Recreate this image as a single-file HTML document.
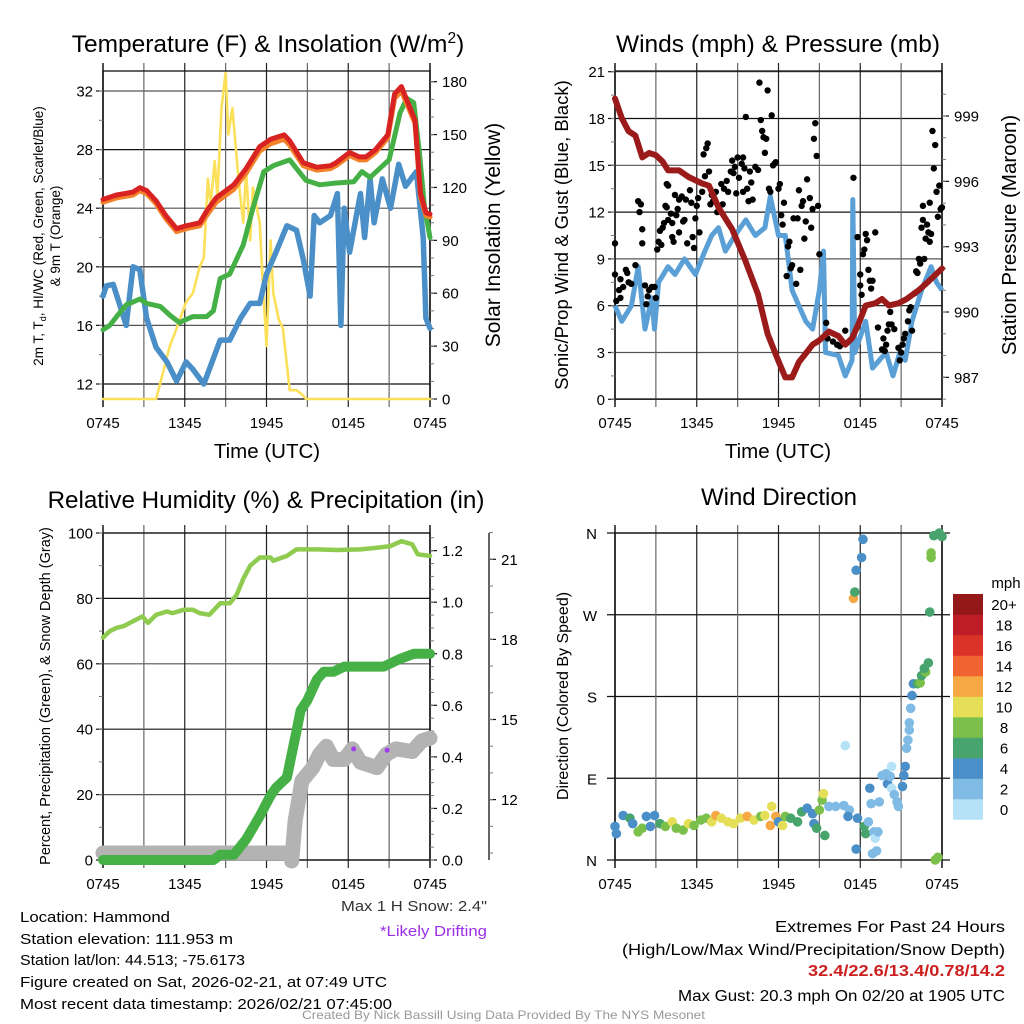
<!DOCTYPE html>
<html><head><meta charset="utf-8"><style>
html,body{margin:0;padding:0;background:#fff;}
svg{display:block;font-family:"Liberation Sans",sans-serif;}
</style></head><body>
<svg id="s" width="1024" height="1024" viewBox="0 0 1024 1024" xmlns="http://www.w3.org/2000/svg">
<g id="g1"></g>
<g id="g2"></g>
<g id="g3"></g>
<g id="g4"></g>
<g id="txt">
<text x="268" y="52" font-size="24.5" text-anchor="middle">Temperature (F) &amp; Insolation (W/m<tspan font-size="15.5" dy="-9">2</tspan><tspan dy="9">)</tspan></text>
<text x="778" y="52" font-size="24.5" text-anchor="middle">Winds (mph) &amp; Pressure (mb)</text>
<text x="266" y="508" font-size="24.2" text-anchor="middle">Relative Humidity (%) &amp; Precipitation (in)</text>
<text x="779" y="505" font-size="24" text-anchor="middle">Wind Direction</text>
<text x="267" y="458" font-size="20.5" text-anchor="middle">Time (UTC)</text>
<text x="778" y="458" font-size="20.5" text-anchor="middle">Time (UTC)</text>
<text transform="translate(43,236) rotate(-90)" font-size="13.5" text-anchor="middle">2m T, T<tspan font-size="9" dy="3">d</tspan><tspan dy="-3">, HI/WC (Red, Green, Scarlet/Blue)</tspan></text>
<text transform="translate(60,236) rotate(-90)" font-size="13.5" text-anchor="middle">&amp; 9m T (Orange)</text>
<text transform="translate(500,235) rotate(-90)" font-size="21" text-anchor="middle">Solar Insolation (Yellow)</text>
<text transform="translate(568,235) rotate(-90)" font-size="18.5" text-anchor="middle">Sonic/Prop Wind &amp; Gust (Blue, Black)</text>
<text transform="translate(1016,235) rotate(-90)" font-size="20.5" text-anchor="middle">Station Pressure (Maroon)</text>
<text transform="translate(50,696) rotate(-90)" font-size="14.5" text-anchor="middle">Percent, Precipitation (Green), &amp; Snow Depth (Gray)</text>
<text transform="translate(568,696) rotate(-90)" font-size="16" text-anchor="middle">Direction (Colored By Speed)</text>
<g font-size="15">
<text x="20" y="922" textLength="150" lengthAdjust="spacingAndGlyphs">Location: Hammond</text>
<text x="20" y="944" textLength="213" lengthAdjust="spacingAndGlyphs">Station elevation: 111.953 m</text>
<text x="20" y="965" textLength="225" lengthAdjust="spacingAndGlyphs">Station lat/lon: 44.513; -75.6173</text>
<text x="20" y="987" textLength="367" lengthAdjust="spacingAndGlyphs">Figure created on Sat, 2026-02-21, at 07:49 UTC</text>
<text x="20" y="1009" textLength="372" lengthAdjust="spacingAndGlyphs">Most recent data timestamp: 2026/02/21 07:45:00</text>
</g>
<text x="341" y="911" font-size="15" fill="#333" textLength="146" lengthAdjust="spacingAndGlyphs">Max 1 H Snow: 2.4"</text>
<text x="380" y="936" font-size="15" fill="#9b30e8" textLength="107" lengthAdjust="spacingAndGlyphs">*Likely Drifting</text>
<g font-size="15.5">
<text x="775" y="932" textLength="230" lengthAdjust="spacingAndGlyphs">Extremes For Past 24 Hours</text>
<text x="622" y="955" textLength="383" lengthAdjust="spacingAndGlyphs">(High/Low/Max Wind/Precipitation/Snow Depth)</text>
<text x="808" y="976" textLength="197" lengthAdjust="spacingAndGlyphs" fill="#cc1f1f" font-weight="bold">32.4/22.6/13.4/0.78/14.2</text>
<text x="678" y="1001" textLength="327" lengthAdjust="spacingAndGlyphs">Max Gust: 20.3 mph On 02/20 at 1905 UTC</text>
</g>
<text x="302" y="1019" font-size="12" fill="#999" textLength="403" lengthAdjust="spacingAndGlyphs">Created By Nick Bassill Using Data Provided By The NYS Mesonet</text>
</g>
</svg>
<script>
// ---------- data ----------
const timeLabels=["0745","1345","1945","0145","0745"];
const tempTicks=[12,16,20,24,28,32];
const solarTicks=[0,30,60,90,120,150,180];
const windTicks=[0,3,6,9,12,15,18,21];
const presTicks=[987,990,993,996,999];
const pctTicks=[0,20,40,60,80,100];
const precipTicks=[0.0,0.2,0.4,0.6,0.8,1.0,1.2];
const snowTicks=[12,15,18,21];
const dirLabels=["N","E","S","W","N"];
const speedBins=["0","2","4","6","8","10","12","14","16","18","20+"];

const redT=[0,1,2.2,2.7,3.2,3.9,4.6,5.4,6.1,7.1,7.6,8.3,9.6,10.5,11.5,12.3,13.3,13.7,14.7,15.7,16.7,17.1,18.1,18.8,19.3,20,20.9,21.4,21.9,22.9,23.3,23.7,24];
const redV=[24.6,24.9,25.1,25.4,25.2,24.5,23.5,22.6,22.8,23.0,23.8,24.7,25.6,26.7,28.2,28.7,29.0,28.6,27.1,26.8,26.9,27.1,27.8,27.5,27.5,28.0,29.0,31.8,32.3,30,25,23.7,23.6];
const orgV=[24.4,24.7,24.9,25.2,25.0,24.3,23.3,22.4,22.6,22.8,23.5,24.4,25.3,26.4,27.9,28.4,28.7,28.3,26.9,26.6,26.7,26.9,27.6,27.3,27.3,27.8,28.8,31.5,32.0,29.8,24.8,23.5,23.4];
const greenT=[0,0.5,1,1.7,2.7,3.2,4.2,4.9,5.6,6.6,7.6,8.1,8.6,9.3,10.3,11,11.8,12.5,13.7,14.9,15.9,16.9,18.4,19,19.6,20.3,21,21.8,22.3,22.8,23.2,23.6,24];
const greenV=[15.7,16.0,16.6,17.4,17.8,17.5,17.3,16.7,16.2,16.6,16.6,17.0,19.2,19.5,21.5,24,26.5,26.9,27.3,25.9,25.6,25.7,25.8,26.5,26.1,26.7,27.3,30.5,31.5,31.2,28,24,22.0];
const blueT=[0,0.25,0.75,1.2,1.7,2.2,2.7,3.2,3.9,4.7,5.4,6.1,6.6,7.4,7.8,8.6,9.3,10.1,10.8,11.5,12,12.7,13.5,14.2,14.7,15.2,15.5,15.9,16.7,17.2,17.46,17.7,18.1,18.9,19.2,19.6,19.9,20.5,21.1,21.7,22.2,23.0,23.5,23.7,24];
const blueV=[18,18.7,18.8,17.5,16,20,19.8,16.5,14.5,13.5,12.2,13.5,13,12,13,15,15,16.5,17.5,17.5,19.5,21,22.8,22.5,20.5,18,23.5,23,23.5,25,16,24,21,25,22,26,23,26,24,27,25.5,26.5,22,16.5,15.8];
const solarT=[0,3.9,4.4,4.9,5.4,6.1,6.6,7.1,7.4,7.7,7.9,8.2,8.4,8.7,9.0,9.2,9.5,10,10.3,10.5,10.8,11.0,11.5,11.7,12,12.3,12.5,12.9,13.2,13.7,14.2,14.7,14.9,24];
const solarV=[0,0,15,30,40,55,60,75,80,125,110,135,115,165,185,150,165,120,100,130,90,120,100,70,30,90,60,45,40,5,5,2,0,0];

const wsT=[0,0.5,1.2,1.7,2.2,2.7,2.9,3.2,3.9,4.4,5.1,5.9,6.6,7.1,7.6,8.1,8.8,9.6,10.3,11.0,11.4,12,12.5,13.0,13.5,14.0,14.5,15.0,15.3,15.45,16.4,16.9,17.4,17.45,17.6,18.4,18.9,19.4,19.9,20.4,20.9,21.3,21.8,22.5,23.2,23.6,24];
const wsV=[6,5,6,8.5,4.5,6.5,4.5,7.5,8.5,8,9,8,9.5,10.5,11,9.5,10.5,11.5,10.5,11,13,10.5,10.5,7,6,5,4.5,7,9.5,3,2.8,1.5,2.5,12.8,3,5,2,2.5,3,1.5,3,2.5,5,7,8.5,7.5,7];
const presT=[0,0.5,1,1.5,2,2.5,3,3.5,3.9,4.7,5.4,6.4,6.9,7.6,8.6,9.6,10.5,11.2,11.9,12.5,13,13.5,14,14.5,15,15.7,16.4,16.9,17.4,17.9,18.4,19.1,19.6,20.1,20.8,21.4,22.3,23.0,24];
const presV=[999.8,998.9,998.3,998.1,997.1,997.3,997.2,996.9,996.5,996.5,996.2,995.9,995.8,994.8,993.8,992.3,990.8,989,987.9,987.0,987.0,987.7,988.1,988.5,988.7,989.1,988.9,988.5,988.8,989.5,990.3,990.4,990.6,990.3,990.4,990.6,991.0,991.4,992.0];
const gustT=[0,0,0.1,0.3,0.4,0.4,0.6,0.8,0.9,1.0,1.2,1.5,1.7,1.8,1.9,2.0,2.0,2.2,2.3,2.4,2.5,2.7,2.9,3.0,3.1,3.2,3.4,3.3,3.5,3.6,3.7,3.8,3.8,3.9,3.9,4.1,4.2,4.2,4.3,4.4,4.5,4.6,4.7,4.7,4.9,5.0,5.1,5.2,5.3,5.5,5.6,5.7,5.8,5.9,6.0,6.1,6.2,6.4,6.5,6.6,6.7,6.8,6.9,7.0,7.1,7.2,7.4,7.5,7.6,7.8,7.9,8.0,8.2,8.3,8.5,8.6,8.7,8.8,8.9,9.0,9.1,9.3,9.4,9.4,9.5,9.6,9.7,9.8,9.9,10.0,10.1,10.3,10.5,10.6,10.7,10.8,10.9,11.0,11.1,11.2,11.3,11.4,11.5,11.6,11.7,11.8,12.0,12.1,12.2,12.3,12.4,12.6,12.7,12.8,12.9,13.0,13.1,13.3,13.4,13.5,13.6,13.7,13.8,13.9,14.0,14.1,14.3,14.4,14.5,14.6,14.7,14.8,14.9,15.0,15.5,15.6,16.0,16.3,16.5,16.9,17.5,17.8,18.0,18.0,18.1,18.2,18.3,18.4,18.5,18.6,18.7,18.8,18.9,19.1,19.3,19.6,19.7,19.8,19.9,20.0,20.1,20.2,20.3,20.5,20.8,20.9,21.0,21.1,21.2,21.3,21.5,21.6,21.7,21.8,22.0,22.1,22.2,22.3,22.4,22.5,22.6,22.6,22.7,22.8,22.9,23.0,23.1,23.1,23.2,23.3,23.4,23.5,23.6,23.7,23.8,23.9,24.0];
const gustV=[10,8,6.3,7,6.5,7.7,7.2,8.3,8.1,7.5,7.4,8.6,12.7,12,12.5,10.9,10,7.3,6.1,6.6,7,7.2,7.2,6.5,9.6,10.1,9.9,10.8,11,11.3,12.4,12.3,13.8,13.7,11.5,11.9,11.3,10.4,10.1,13.1,11.8,12.2,10.7,12.8,13,11.4,11.5,12.8,10,13.4,12.6,10.4,9.7,11.6,12.4,12.9,10.7,13.3,15.7,14.3,16.1,16.4,14.6,12.5,13.1,12.7,13.3,12.0,12.4,13.8,12.5,13.5,14.0,13.3,14.6,15.3,14.5,14.9,13.2,15.5,14.2,15.1,13.3,15.5,14.8,18.1,13.5,12.7,14.6,13.9,12.8,14.9,14.7,20.3,17.9,17.2,16.8,15.8,16.7,19.8,13.5,13.3,18.2,15,15.1,15.2,13.5,13.8,11.8,11.2,12.6,7.9,9.8,10.1,8.4,8.6,11.6,7.4,11.6,13.4,8.3,12.4,12.7,10.3,11.4,14.1,12.9,11.0,12.2,16.7,17.7,15.6,12.4,9.3,4.9,3.9,3.7,3.5,3.4,4.4,14.2,10.4,8,7.3,6.7,9.3,9.6,10.6,10.2,8.3,7.6,7.1,7.6,10.7,4.6,3.2,3.9,3.1,3.5,4.4,4.8,5.6,4.8,4.5,3.3,2.5,3,3.5,3.9,4.2,5.0,5.7,5.9,4.4,6.8,8.2,8.1,9,8.7,11,12.4,11.5,9,10.3,11.2,10.7,12.6,10.1,10.6,17.2,14.8,16.3,13.3,11.7,13.7,12.2,12.3];

const rhT=[0,0.5,1,1.5,2.2,2.9,3.3,3.9,4.7,5.1,5.9,6.6,7.1,7.8,8.6,9.3,9.8,10.3,10.8,11.5,12.3,12.5,13.5,14.2,15.7,17.2,18.9,20.1,21.1,21.9,22.7,23.1,24];
const rhV=[68,70,71,71.5,73,74.5,72.5,75,76,75.5,76.5,76.5,75.5,75,78.5,78.5,81,86,90,92.5,92.5,91.5,93,95,95,94.8,95,95.5,96,97.5,96.5,93.5,93];
const prT=[0,8.1,8.6,9.6,10.5,11.5,12.3,12.7,13.5,14.0,14.2,14.5,15.0,15.7,16.2,16.9,17.7,19.4,20.6,21.8,22.8,24];
const prV=[0,0,0.02,0.02,0.08,0.17,0.25,0.28,0.32,0.45,0.5,0.58,0.62,0.7,0.73,0.73,0.75,0.75,0.75,0.78,0.8,0.8];
const snT=[0,13.7,13.85,14.1,14.6,15.4,15.9,16.4,16.9,17.7,18.3,18.9,20.1,20.8,21.5,22.7,23.4,24];
const snV=[10,10,9.7,11.2,12.7,13.2,13.7,14,13.5,13.5,13.9,13.4,13.2,13.7,13.9,13.8,14.2,14.3];
const driftT=[18.4,20.85];
const driftV=[13.9,13.85];

const dirT=[0,0.1,0.6,1.1,1.3,1.7,2.0,2.3,2.6,2.9,3.3,3.7,4.2,4.5,5.0,5.4,5.8,6.3,6.7,7.1,7.4,7.8,8.3,8.7,9.2,9.7,10.2,10.7,11.0,11.5,11.4,11.8,12.0,12.3,12.5,12.9,13.4,13.7,14.1,14.5,14.6,14.8,15.0,15.2,15.3,15.4,15.7,16.2,16.8,17.2,17.1,16.9,17.5,17.6,17.7,18.1,18.2,17.8,17.7,18.3,18.4,18.6,18.7,18.8,19.0,19.1,19.3,18.9,19.2,19.4,19.6,19.9,20.0,20.2,20.3,20.3,20.5,20.7,20.8,21.1,21.2,21.3,21.4,21.5,21.6,21.6,21.7,21.8,21.9,22.2,22.4,22.5,22.8,22.7,23.0,23.1,23.2,23.2,23.4,23.8,24.0,23.5,23.7];
const dirV=[37,29,49,46,40,31,35,48,37,49,40,37,42,35,33,40,38,44,46,42,49,46,42,40,46,48,44,48,49,59,38,48,42,38,48,46,42,53,57,51,40,35,55,66,73,27,59,59,60,55,48,126,288,295,319,333,353,46,12,37,29,42,79,62,31,24,31,7,10,64,93,95,84,92,103,79,72,64,59,81,93,103,123,132,143,151,167,181,194,194,195,203,207,211,217,273,333,338,357,360,356,0,3];
const dirS=[5,5,4,6,4,8,8,4,4,4,6,8,10,8,8,10,8,8,8,10,12,10,10,10,10,12,10,8,10,10,12,12,4,10,8,6,6,6,4,4,4,6,8,8,10,6,2,2,2,2,4,0,12,6,4,4,4,4,4,6,6,2,4,2,2,0,2,2,2,2,2,2,4,2,0,0,2,2,2,4,4,4,2,2,2,2,2,4,4,6,8,6,8,6,6,6,8,8,6,6,6,8,8];
const speedColors=["#b6e2f8","#7fbbe4","#4a8fc7","#46a46c","#7bc04a","#e5df57","#f5a844","#ef6430","#dc3328","#bd1d26","#941818"];

// ---------- helpers ----------
const NS="http://www.w3.org/2000/svg";
function mk(parent,tag,attrs){const e=document.createElementNS(NS,tag);for(const k in attrs)e.setAttribute(k,attrs[k]);parent.appendChild(e);return e;}
function pathD(ts,vs,X,Y){return ts.map((t,i)=>(i?"L":"M")+X(t).toFixed(1)+","+Y(vs[i]).toFixed(1)).join("");}
function frame(g,x0,x1,y0,y1,prefix){
  for(let i=0;i<=8;i++){const x=x0+(x1-x0)*i/8;
    const l=mk(g,"line",{x1:x,x2:x,y1:y0-8,y2:y1+8,stroke:(i%2?"#666":"#222"),"stroke-width":(i==0||i==8)?1.6:1.2});
    
    }
  for(let i=0;i<5;i++){const t=mk(g,"text",{x:x0+(x1-x0)*i/4,y:y1+29,"font-size":15,"text-anchor":"middle"});t.textContent=timeLabels[i];
    
    }
  const b=mk(g,"rect",{x:x0,y:y0,width:x1-x0,height:y1-y0,fill:"none",stroke:"#111","stroke-width":1.3});
  
  
}
function hgrid(g,ticks,Y,x0,x1){
  ticks.forEach((v,i)=>{const y=Y(v);
    const l=mk(g,"line",{x1:x0,x2:x1,y1:y,y2:y,stroke:(i%2?"#555":"#111"),"stroke-width":1.2});
    
    });
}
function yaxis(g,ticks,Y,x,dir,fmt,minorStep,lo,hi,name){
  ticks.forEach(v=>{const y=Y(v);
    mk(g,"line",{x1:x,x2:x+dir*7,y1:y,y2:y,stroke:"#111","stroke-width":1.2});
    const t=mk(g,"text",{x:x+dir*(dir<0?10:12),y:y+5.5,"font-size":15,"text-anchor":dir<0?"end":"start"});t.textContent=fmt(v);
    
    });
  for(let v=lo;v<=hi+1e-9;v+=minorStep){mk(g,"line",{x1:x,x2:x+dir*4,y1:Y(v),y2:Y(v),stroke:"#777","stroke-width":1});}
}

// ---------- panel 1 ----------
(function(){
  const g=document.getElementById("g1");
  const x0=103,x1=430,y0=71,y1=399;
  const X=h=>x0+h*(x1-x0)/24, Y=t=>91+(32-t)*14.65, YS=s=>399-s*(317.3/180);
  hgrid(g,tempTicks,Y,x0,x1);
  frame(g,x0,x1,y0,y1,"temperature");
  yaxis(g,tempTicks,Y,x0,-1,v=>v,2,12,32,"temp");
  yaxis(g,solarTicks,YS,x1,1,v=>v,10,0,180,"solar");
  const series=[[solarT,solarV,"#fde05a",2.6,YS,"solar-line"],[blueT,blueV,"#4a8fc7",5.5,Y,"windchill-line"],[greenT,greenV,"#45b045",5,Y,"dewpoint-line"],[redT,orgV,"#f2812a",5,Y,"temp-9m-line"],[redT,redV,"#d92323",5,Y,"temp-2m-line"]];
  series.forEach(s=>{const p=mk(g,"path",{d:pathD(s[0],s[1],X,s[4]),fill:"none",stroke:s[2],"stroke-width":s[3],"stroke-linejoin":"round","stroke-linecap":"round"});
    
    });
})();

// ---------- panel 2 ----------
(function(){
  const g=document.getElementById("g2");
  const x0=615,x1=942,y0=71,y1=399;
  const X=h=>x0+h*(x1-x0)/24, Y=w=>399.3-w*15.6, YP=p=>116+(999-p)*21.78;
  hgrid(g,windTicks,Y,x0,x1);
  frame(g,x0,x1,y0,y1,"wind");
  yaxis(g,windTicks,Y,x0,-1,v=>v,1.5,0,21,"wind");
  yaxis(g,presTicks,YP,x1,1,v=>v,1,986,1000,"pressure");
  const w=mk(g,"path",{d:pathD(wsT,wsV,X,Y),fill:"none",stroke:"#5a9fd6","stroke-width":5,"stroke-linejoin":"round"});
  
  
  gustT.forEach((t,i)=>{const c=mk(g,"circle",{cx:X(t),cy:Y(gustV[i]),r:3.2,fill:"#000"});
    
    });
  const p=mk(g,"path",{d:pathD(presT,presV,X,YP),fill:"none",stroke:"#9b1b1b","stroke-width":6,"stroke-linejoin":"round","stroke-linecap":"round"});
  
  
})();

// ---------- panel 3 ----------
(function(){
  const g=document.getElementById("g3");
  const x0=103,x1=430,y0=533,y1=860;
  const X=h=>x0+h*(x1-x0)/24, Y=v=>533+(100-v)*3.27, YP=p=>860-p*257.8, YS=s=>559.3+(21-s)*26.7;
  hgrid(g,pctTicks,Y,x0,x1);
  frame(g,x0,x1,y0,y1,"humidity");
  yaxis(g,pctTicks,Y,x0,-1,v=>v,10,0,100,"percent");
  yaxis(g,precipTicks,YP,x1,1,v=>v.toFixed(1),0.05,0,1.25,"precip");
  mk(g,"line",{x1:489,x2:489,y1:533,y2:860,stroke:"#111","stroke-width":1.3});
  yaxis(g,snowTicks,YS,489,1,v=>v,1,10,22,"snow");
  const sn=mk(g,"path",{d:pathD(snT,snV,X,YS),fill:"none",stroke:"#b3b3b3","stroke-width":15,"stroke-linejoin":"round","stroke-linecap":"round"});
  
  
  const pr=mk(g,"path",{d:pathD(prT,prV,X,YP),fill:"none",stroke:"#45b045","stroke-width":10,"stroke-linejoin":"round","stroke-linecap":"round"});
  
  
  const rh=mk(g,"path",{d:pathD(rhT,rhV,X,Y),fill:"none",stroke:"#8fcb4f","stroke-width":4.5,"stroke-linejoin":"round","stroke-linecap":"round"});
  
  
  driftT.forEach((t,i)=>{const c=mk(g,"circle",{cx:X(t),cy:YS(driftV[i]),r:2.5,fill:"#a23cf0"});
    
    });
})();

// ---------- panel 4 ----------
(function(){
  const g=document.getElementById("g4");
  const x0=615,x1=942,y0=533,y1=860;
  const X=h=>x0+h*(x1-x0)/24, Y=d=>860-d*(327/360);
  [0,90,180,270,360].forEach((d,i)=>{const l=mk(g,"line",{x1:x0-8,x2:x1+8,y1:Y(d),y2:Y(d),stroke:"#111","stroke-width":1.2});
    
    
    const t=mk(g,"text",{x:x0-18,y:Y(d)+6,"font-size":15,"text-anchor":"end"});t.textContent=dirLabels[i];
    
    });
  frame(g,x0,x1,y0,y1,"direction");
  dirT.forEach((t,i)=>{const c=mk(g,"circle",{cx:X(t),cy:Y(dirV[i]),r:4.8,fill:speedColors[Math.min(10,Math.floor(dirS[i]/2))]});
    
    });
  const t=mk(g,"text",{x:1006,y:588,"font-size":15,"text-anchor":"middle"});t.textContent="mph";
  
  
  const bh=20.5;
  speedBins.forEach((lab,i)=>{const y=594+(10-i)*bh;
    const r=mk(g,"rect",{x:953,y:y,width:30,height:bh+0.3,fill:speedColors[i]});
    
    
    const tx=mk(g,"text",{x:1004,y:y+bh/2+5.5,"font-size":15,"text-anchor":"middle"});tx.textContent=lab;
    
    });
})();
</script>
</body></html>
